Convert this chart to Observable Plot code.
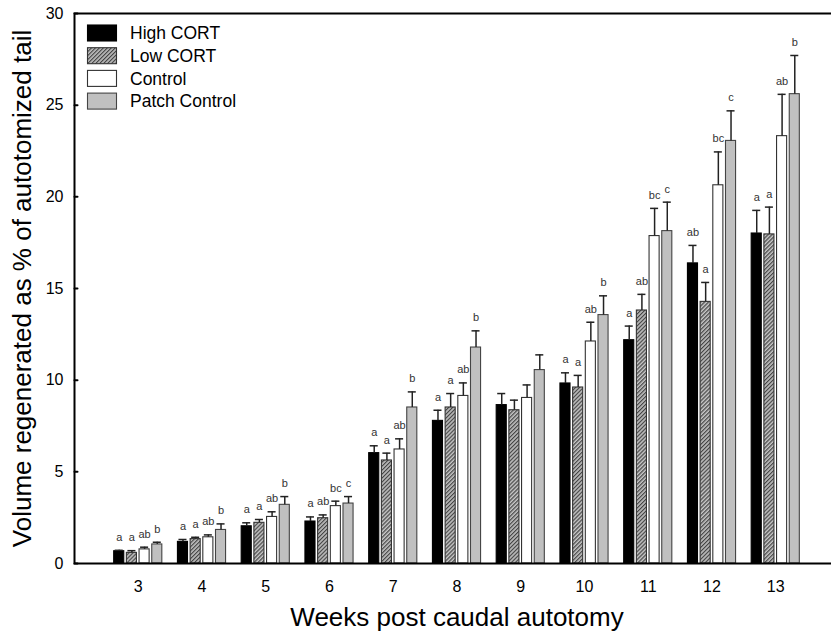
<!DOCTYPE html>
<html>
<head>
<meta charset="utf-8">
<script src="https://cdn.jsdelivr.net/npm/d3@7"></script>
<script src="https://cdn.jsdelivr.net/npm/@observablehq/plot@0.6"></script>
<style>
  html, body { margin: 0; padding: 0; background: #fff; overflow: hidden; }
  #chart { width: 831px; height: 640px; overflow: hidden; position: relative; }
  #chart svg { max-width: none !important; }
</style>
</head>
<body>
<div id="chart"></div>
<script>
// ---- data ----
const weeks = [3, 4, 5, 6, 7, 8, 9, 10, 11, 12, 13];
const groups = ["High CORT", "Low CORT", "Control", "Patch Control"];
const yTicks = [0, 5, 10, 15, 20, 25, 30];

const highCort   = [0.67, 1.18, 2.03, 2.29, 6.02, 7.78, 8.64, 9.82, 12.18, 16.37, 18.00];
const highCortSE = [0.05, 0.13, 0.19, 0.25, 0.40, 0.58, 0.63, 0.58, 0.77, 0.98, 1.26];
const lowCort    = [0.58, 1.33, 2.22, 2.47, 5.62, 8.51, 8.36, 9.60, 13.80, 14.27, 17.95];
const lowCortSE  = [0.12, 0.10, 0.18, 0.18, 0.40, 0.76, 0.55, 0.66, 0.88, 1.06, 1.49];
const control    = [0.77, 1.43, 2.54, 3.13, 6.22, 9.14, 9.03, 12.11, 17.86, 20.63, 23.31];
const controlSE  = [0.12, 0.13, 0.28, 0.27, 0.58, 0.71, 0.71, 1.05, 1.51, 1.82, 2.28];
const patch      = [1.04, 1.83, 3.20, 3.27, 8.51, 11.78, 10.55, 13.55, 18.13, 23.05, 25.60];
const patchSE    = [0.12, 0.33, 0.45, 0.38, 0.85, 0.91, 0.83, 1.05, 1.58, 1.64, 2.11];

const highLetters    = ["a", "a", "a", "a", "a", "a", "", "a", "a", "ab", "a"];
const lowLetters     = ["a", "a", "a", "ab", "a", "a", "", "a", "ab", "a", "a"];
const controlLetters = ["ab", "ab", "ab", "bc", "ab", "ab", "", "ab", "bc", "bc", "ab"];
const patchLetters   = ["b", "b", "b", "c", "b", "b", "", "b", "c", "c", "b"];

const xTitle = "Weeks post caudal autotomy";
const yTitle = "Volume regenerated as % of autotomized tail";

// ---- build table ----
const series = [
  {values: highCort, se: highCortSE, letters: highLetters},
  {values: lowCort, se: lowCortSE, letters: lowLetters},
  {values: control, se: controlSE, letters: controlLetters},
  {values: patch, se: patchSE, letters: patchLetters}
];
const rows = [];
series.forEach((s, gi) => {
  weeks.forEach((w, wi) => {
    rows.push({group: groups[gi], gi, week: w, value: s.values[wi], se: s.se[wi], letter: s.letters[wi]});
  });
});

// layout (in week units of the x scale)
const barStep = 0.199, barHalf = 0.079, capHalf = 0.063;
const barCenter = d => d.week + (d.gi - 1.5) * barStep;
const errTop = d => d.value + d.se;

const fills = ["#000000", "url(#hatch)", "#ffffff", "#c0c0c0"];
const strokes = ["#000000", "#333333", "#333333", "#444444"];

const tickShape = {draw(context, l) { context.moveTo(0, 0); context.lineTo(0, -l); }};

const marks = [];
groups.forEach((g, gi) => {
  const data = rows.filter(d => d.gi === gi);
  marks.push(Plot.rectY(data, {
    x1: d => barCenter(d) - barHalf, x2: d => barCenter(d) + barHalf, y: "value",
    fill: fills[gi], stroke: strokes[gi], strokeWidth: 1.1
  }));
});
marks.push(
  Plot.ruleX(rows, {x: barCenter, y1: "value", y2: errTop, stroke: "#222", strokeWidth: 1.5}),
  Plot.ruleY(rows, {y: errTop, x1: d => barCenter(d) - capHalf, x2: d => barCenter(d) + capHalf, stroke: "#222", strokeWidth: 1.5}),
  Plot.text(rows.filter(d => d.letter), {x: barCenter, y: errTop, text: "letter", dy: -13, fontSize: 11, fill: "#333"}),
  Plot.frame({stroke: "#000", strokeWidth: 2}),
  Plot.vector(yTicks, {y: d => d, frameAnchor: "left", rotate: 90, length: 3, anchor: "start", shape: tickShape, stroke: "#000", strokeWidth: 2}),
  Plot.axisY({ticks: yTicks, tickSize: 0, tickPadding: 11, fontSize: 16, label: null, fill: "#000"}),
  Plot.axisX({ticks: weeks, tickSize: 0, tickPadding: 17, fontSize: 16, label: null, fill: "#000"}),
  Plot.text([xTitle], {frameAnchor: "bottom", dy: 62, fontSize: 26, fill: "#000"}),
  Plot.text([yTitle], {frameAnchor: "left", textAnchor: "middle", rotate: -90, dx: -52, fontSize: 26, fill: "#000"})
);

const chart = Plot.plot({
  width: 839,
  height: 640,
  marginLeft: 74,
  marginRight: 0,
  marginTop: 13,
  marginBottom: 77,
  x: {domain: [2, 14], axis: null},
  y: {domain: [0, 30], axis: null},
  style: {fontFamily: "'Liberation Sans', Arial, sans-serif", background: "#fff", color: "#000"},
  marks
});

// hatch pattern
const svg = d3.select(chart);
const defs = svg.insert("defs", ":first-child");
const pat = defs.append("pattern")
  .attr("id", "hatch").attr("patternUnits", "userSpaceOnUse")
  .attr("width", 2.8).attr("height", 2.8)
  .attr("patternTransform", "rotate(45)");
pat.append("rect").attr("width", 2.8).attr("height", 2.8).attr("fill", "#c4c4c4");
pat.append("rect").attr("width", 1.2).attr("height", 2.8).attr("fill", "#444444");

// legend inside plot area
const legend = svg.append("g")
  .attr("font-family", "'Liberation Sans', Arial, sans-serif")
  .attr("text-anchor", "start");
groups.forEach((g, i) => {
  const cy = 33 + i * 22.7;
  legend.append("rect")
    .attr("x", 87.5).attr("y", cy - 8).attr("width", 29).attr("height", 16)
    .attr("fill", fills[i]).attr("stroke", strokes[i]).attr("stroke-width", 1.1);
  legend.append("text")
    .attr("x", 130).attr("y", cy).attr("dy", "0.35em")
    .attr("text-anchor", "start")
    .attr("font-size", 17.5).attr("fill", "#000").text(g);
});

document.getElementById("chart").appendChild(chart);
</script>
</body>
</html>
